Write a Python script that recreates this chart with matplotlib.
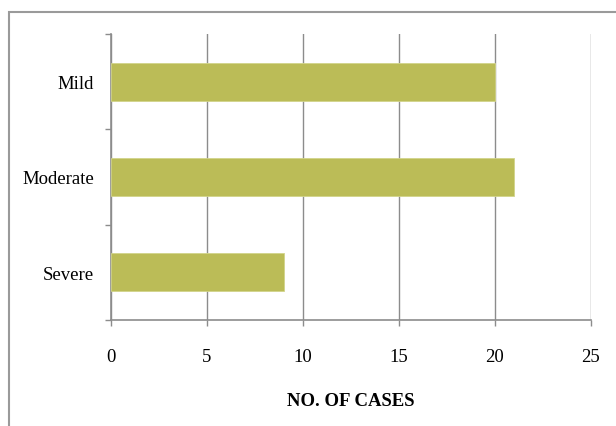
import matplotlib
matplotlib.use("Agg")
import matplotlib.pyplot as plt
from matplotlib.patches import Rectangle

categories = ["Severe", "Moderate", "Mild"]
cases = [9, 21, 20]
xticks = [0, 5, 10, 15, 20, 25]
xlabel = "NO. OF CASES"

plt.rcParams['font.family'] = ['Liberation Serif', 'DejaVu Serif']

W, H = 616, 427
fig = plt.figure(figsize=(W / 100, H / 100), dpi=100)
ax = fig.add_axes([110.8 / W, 1 - 321 / H, (591 - 110.8) / W, (321 - 35) / H])

grey = "#8c8c8c"
ypos = list(range(len(categories)))
ax.barh(ypos, cases, height=0.4, color="#BBBC57", edgecolor="#D2D48A", linewidth=0.6, zorder=3)

ax.set_xlim(0, 25)
ax.set_ylim(-0.5, len(categories) - 0.5)
ax.set_xticks(xticks)
ax.set_xticklabels([str(t) for t in xticks])
ax.set_yticks(ypos)
ax.set_yticklabels(categories)
ax.set_yticks([-0.5, 0.5, 1.5, 2.5], minor=True)

ax.grid(axis="x", color=grey, linewidth=1.0, zorder=0)
for s in ["top", "right"]:
    ax.spines[s].set_visible(False)
for s in ["left", "bottom"]:
    ax.spines[s].set_color(grey)
    ax.spines[s].set_linewidth(1.2)

ax.tick_params(axis="x", which="major", direction="out", length=4.5, width=1, color=grey,
               pad=16, labelsize=13.5)
ax.tick_params(axis="y", which="major", length=0, pad=12, labelsize=13.5)
ax.tick_params(axis="y", which="minor", direction="out", length=4.5, width=1, color=grey)

ax.set_xlabel(xlabel, fontsize=13.5, fontweight="bold", labelpad=19)

fig.patches.append(Rectangle((9 / W, -0.1), 1.2, 1 - 13 / H + 0.1, transform=fig.transFigure,
                             fill=False, edgecolor="#9a9a9a", linewidth=1.5))

fig.savefig("out.png", dpi=100, facecolor="white")
